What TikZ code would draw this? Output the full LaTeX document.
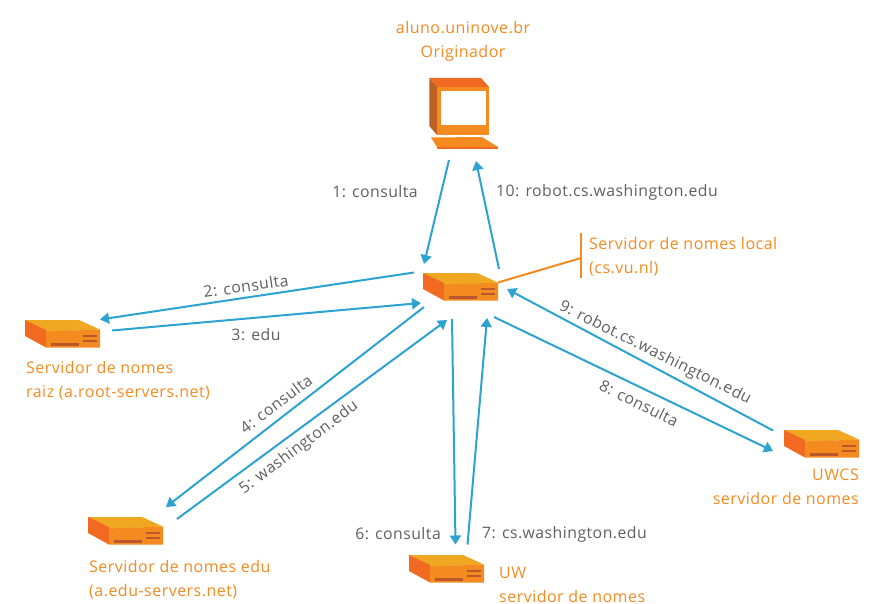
\documentclass[tikz,border=0pt]{standalone}
\usepackage{fontspec}
\setmainfont{Open Sans}[LetterSpace=3]
\usetikzlibrary{arrows.meta, calc}

\definecolor{srvtop}{HTML}{F0A823}
\definecolor{srvfront}{HTML}{F48B21}
\definecolor{srvside}{HTML}{F26A21}
\definecolor{srvvent}{HTML}{B9582A}
\definecolor{monside}{HTML}{BD6022}
\definecolor{linkblue}{HTML}{2CA3D0}
\definecolor{labgray}{HTML}{5F6062}

\tikzset{
  link/.style={linkblue, line width=2pt, -{Triangle[length=9pt,width=11pt]}},
  lab/.style={labgray, font=\fontsize{15.8}{19}\selectfont, inner sep=0pt},
  srvlab/.style={srvfront, font=\fontsize{16}{24}\selectfont, inner sep=0pt, align=left},
  pics/srv/.style={code={
    \fill[srvtop] (0,0) -- (54,0) -- (75,9.5) -- (21,12) -- cycle;
    \fill[srvside] (0,0) -- (21,10) -- (21,27.5) -- (0,16) -- cycle;
    \fill[srvfront] (21,11.5) -- (75,9.5) -- (75,27.5) -- (21,27.5) -- cycle;
    \fill[srvvent] (58,15) rectangle (72,17);
    \fill[srvvent] (58,19.5) rectangle (72,22);
    \fill[srvvent] (26,23) rectangle (54,25.5);
  }}
}

\begin{document}
\begin{tikzpicture}[x=1pt,y=-1pt]
  \useasboundingbox (0,0) rectangle (880,604);
  \fill[white] (0,0) rectangle (880,604);

  % computer
  \fill[srvside] (429.3,78) -- (481,78) -- (489,87) -- (437,87) -- cycle;
  \fill[monside] (429.3,78) -- (437,87) -- (437,135) -- (429.3,126) -- cycle;
  \fill[srvfront] (437,87) rectangle (489,135);
  \fill[white] (441,91) rectangle (486,125);
  \fill[srvfront] (431,137.5) -- (482,137) -- (498,147) -- (437,147) -- cycle;
  \fill[srvside] (437,147) rectangle (498,149);

  % servers
  \pic at (423,273) {srv};
  \pic at (25,320) {srv};
  \pic at (88,517) {srv};
  \pic at (409,555) {srv};
  \pic at (784,430) {srv};

  % link to the local label
  \coordinate (tapa) at (498,282.5);
  \coordinate (tapb) at (581,258);
  \coordinate (bartop) at (581,233);
  \coordinate (barend) at (581,278);
  \draw[srvfront, line width=2pt] (tapa) -- (tapb);
  \draw[srvfront, line width=2pt] (bartop) -- (barend);

  % end points of the links
  \coordinate (a1) at (449,160);   \coordinate (b1) at (424,264);
  \coordinate (a2) at (414,272.5); \coordinate (b2) at (100,319.5);
  \coordinate (a3) at (112,330.5); \coordinate (b3) at (421,303);
  \coordinate (a4) at (424,307);   \coordinate (b4) at (166,507);
  \coordinate (a5) at (177,519);   \coordinate (b5) at (447,320);
  \coordinate (a6) at (452,319);   \coordinate (b6) at (455.5,544.5);
  \coordinate (a7) at (467.5,544.5); \coordinate (b7) at (487,318);
  \coordinate (a8) at (494,317);   \coordinate (b8) at (773,451);
  \coordinate (a9) at (773,430.5); \coordinate (b9) at (507,289);
  \coordinate (a10) at (499,269);  \coordinate (b10) at (476,161);

  \foreach \n in {1,...,10} {
    \draw[link] (a\n) -- (b\n);
  }

  % labels of the links
  \node[lab] (lab1) at (375,192) {1: consulta};
  \node[lab, anchor=east] (lab10) at (718,192) {10: robot.cs.washington.edu};
  \node[lab, rotate=8] (lab2) at (246,286) {2: consulta};
  \node[lab] (lab3) at (256,335) {3: edu};
  \node[lab, rotate=37] (lab4) at (276,404) {4: consulta};
  \node[lab, rotate=37] (lab5) at (299,448) {5: washington.edu};
  \node[lab, anchor=east] (lab6) at (441,534) {6: consulta};
  \node[lab, anchor=west] (lab7) at (482,534) {7: cs.washington.edu};
  \node[lab, rotate=-26.5] (lab8) at (639,403) {8: consulta};
  \node[lab, rotate=-26.5] (lab9) at (655,353) {9: robot.cs.washington.edu};

  % labels of the machines
  \node[srvlab, align=center] (orig) at (463,41) {aluno.uninove.br\\Originador};
  \node[srvlab, anchor=west] (local) at (589,257) {Servidor de nomes local\\(cs.vu.nl)};
  \node[srvlab, anchor=west] (raiz) at (26,381) {Servidor de nomes\\raiz (a.root-servers.net)};
  \node[srvlab, anchor=west] (edu) at (89,580) {Servidor de nomes edu\\(a.edu-servers.net)};
  \node[srvlab, anchor=west] (uw) at (499,584.5) {UW\\servidor de nomes};
  \node[srvlab, anchor=east, align=right] (uwcs) at (859,487) {UWCS\\servidor de nomes};
\end{tikzpicture}
\end{document}
